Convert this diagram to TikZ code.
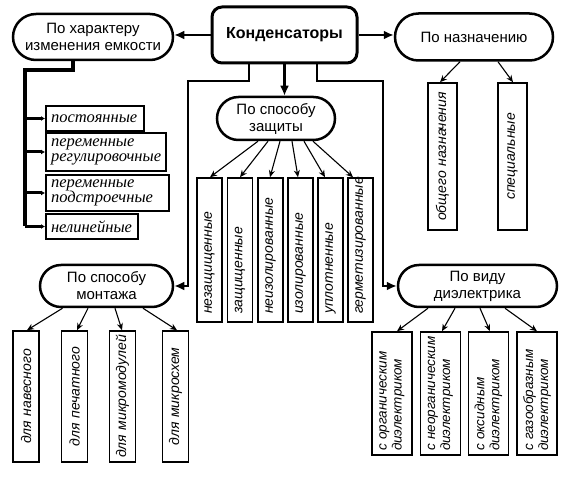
\documentclass[tikz,border=0pt]{standalone}
\usepackage{fontspec}
\setmainfont{Liberation Sans}
\newfontfamily\listfont{Liberation Serif}
\newfontfamily\vfont{Liberation Sans}
\usetikzlibrary{arrows.meta,calc,shapes.misc}
\begin{document}
\begin{tikzpicture}[x=1pt,y=-1pt,
 stad/.style={draw, rounded rectangle, line width=2.5pt, inner sep=0pt, align=center, font=\fontsize{15}{17}\selectfont},
 lbox/.style={draw, line width=2pt, inner xsep=5pt, inner ysep=0pt, anchor=west, align=left, font=\listfont\itshape\fontsize{16.5}{15}\selectfont},
 vbox/.style={draw, line width=1.6pt, rotate=90, inner ysep=0pt, font=\vfont\itshape\fontsize{14}{15}\selectfont},
 dbox/.style={vbox, minimum height=40, inner xsep=4pt, text width=115, align=left, font=\vfont\itshape\fontsize{13.5}{15}\selectfont},
 mainarr/.style={line width=2.6pt, -{Latex[length=10pt,width=9pt]}},
 subarr/.style={line width=1.1pt, -{Stealth[length=7pt,width=6pt]}},
 larr/.style={line width=3pt, -{Latex[length=4pt,width=5pt]}}
]
\useasboundingbox (0,0) rectangle (566,478);

% main nodes
\node[draw, line width=3pt, rounded corners=10pt, minimum width=145, minimum height=56, inner sep=0pt,
      font=\bfseries\fontsize{16}{18}\selectfont] (cond) at (284.5,35) {Конденсаторы};
\node[stad, minimum width=160, minimum height=46] (har) at (93,37) {По характеру\\изменения емкости};
\node[stad, minimum width=158, minimum height=47] (naz) at (474,37) {По назначению};
\node[stad, minimum width=118, minimum height=43] (zash) at (276,118.5) {По способу\\защиты};
\node[stad, minimum width=133, minimum height=42] (mont) at (106.5,286) {По способу\\монтажа};
\node[stad, minimum width=159, minimum height=42] (diel) at (477.5,286) {По виду\\диэлектрика};

% list boxes
\node[lbox, minimum height=25, text width=88] (l1) at (45,118.5) {постоянные};
\node[lbox, minimum height=38, text width=110] (l2) at (45,152) {переменные\\регулировочные};
\node[lbox, minimum height=36, text width=113] (l3) at (45,193) {переменные\\подстроечные};
\node[lbox, minimum height=25, text width=82] (l4) at (45,226.5) {нелинейные};

% naznachenie children
\node[vbox, minimum height=29, inner xsep=0pt, text width=147, align=center] (n1) at (442.5,156.5) {общего назначения};
\node[vbox, minimum height=29, inner xsep=0pt, text width=147, align=center] (n2) at (512.5,156.5) {специальные};

% zashchita children
\foreach \nm/\xx/\tx in {p1/209.5/незащищенные, p2/240/защищенные, p3/270.5/неизолированные,
                         p4/300.5/изолированные, p5/330.5/уплотненные, p6/360.5/герметизированные}{
  \node[vbox, minimum height=25, inner xsep=8pt, text width=128, align=left] (\nm) at (\xx,250) {\tx};
}

% montazh children
\foreach \nm/\xx/\tx in {m1/26/для навесного, m2/74.5/для печатного, m3/122.5/для микромодулей, m4/175.5/для микросхем}{
  \node[vbox, minimum height=26, inner xsep=0pt, text width=131, align=center] (\nm) at (\xx,396.5) {\tx};
}

% dielectric children
\node[dbox] (d1) at (392,393.5) {с органическим\\диэлектриком};
\node[dbox] (d2) at (440.5,393.5) {с неорганическим\\диэлектриком};
\node[dbox] (d3) at (488.5,393.5) {с оксидным\\диэлектриком};
\node[dbox] (d4) at (537,393.5) {с газообразным\\диэлектриком};

% main connectors
\coordinate (jl) at (188,81);
\coordinate (jr) at (383,81);
\draw[mainarr] (cond.west) -- (har.east |- cond.west);
\draw[mainarr] (cond.east) -- (naz.west |- cond.east);
\draw[mainarr] (cond.south) -- (cond.south |- zash.north);
\draw[mainarr] ([xshift=-35.5pt]cond.south) |- (jl) |- (mont.east);
\draw[mainarr] ([xshift=32.5pt]cond.south) |- (jr) |- (diel.west);

% list tree
\coordinate (hj) at (25,70);
\draw[line width=4pt] ([xshift=-20pt]har.south) |- (hj) -- (hj |- l4.west);
\foreach \b in {l1,l2,l3,l4}{
  \draw[larr] (hj |- \b.west) -- (\b.west);
}

% sub arrows
\draw[subarr] ([xshift=-14pt]naz.south) -- ([xshift=-2.5pt]n1.east);
\draw[subarr] ([xshift=24pt]naz.south) -- ([xshift=0.5pt]n2.east);

\draw[subarr] ([xshift=-18pt]zash.south) -- ([xshift=0.5pt]p1.east);
\draw[subarr] ([xshift=-8pt]zash.south) -- ([xshift=0pt]p2.east);
\draw[subarr] ([xshift=4pt]zash.south) -- ([xshift=-0.5pt]p3.east);
\draw[subarr] ([xshift=16pt]zash.south) -- ([xshift=-2.5pt]p4.east);
\draw[subarr] ([xshift=28pt]zash.south) -- ([xshift=-5.5pt]p5.east);
\draw[subarr] ([xshift=37pt]zash.south) -- ([xshift=-7.5pt]p6.east);

\draw[subarr] ([xshift=-44pt]mont.south) -- ([xshift=1pt]m1.east);
\draw[subarr] ([xshift=-18.5pt]mont.south) -- ([xshift=2.5pt]m2.east);
\draw[subarr] ([xshift=8.5pt]mont.south) -- ([xshift=-0.5pt]m3.east);
\draw[subarr] ([xshift=36.5pt]mont.south) -- ([xshift=1.5pt]m4.east);

\draw[subarr] ([xshift=-49.5pt]diel.south) -- ([xshift=5pt]d1.east);
\draw[subarr] ([xshift=-22.5pt]diel.south) -- ([xshift=1.5pt]d2.east);
\draw[subarr] ([xshift=2.5pt]diel.south) -- ([xshift=1.5pt]d3.east);
\draw[subarr] ([xshift=27.5pt]diel.south) -- ([xshift=0pt]d4.east);
\end{tikzpicture}
\end{document}
